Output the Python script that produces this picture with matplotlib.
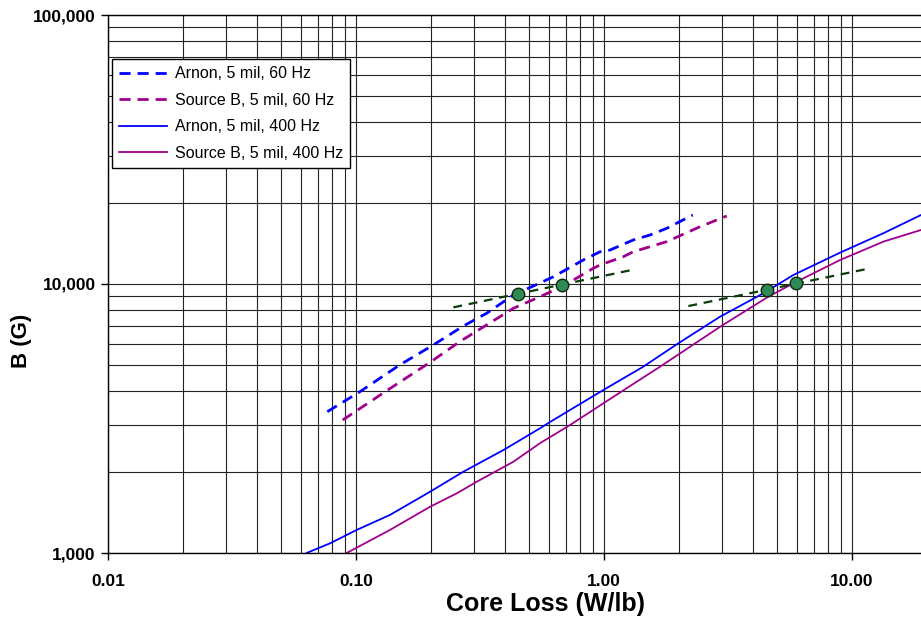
import matplotlib
matplotlib.use("Agg")
import matplotlib.pyplot as plt
from matplotlib.ticker import FixedLocator, FixedFormatter, LogLocator, NullFormatter

plt.rcParams['font.family'] = ['Liberation Sans', 'DejaVu Sans']

# Arnon, 5 mil, 60 Hz (dashed blue)
arnon60_x = [0.0766, 0.1037, 0.150, 0.205, 0.271, 0.336, 0.431, 0.519, 0.625, 0.825, 0.964, 1.057, 1.313, 1.532, 1.790, 2.279]
arnon60_y = [3352, 3978, 5000, 5935, 6980, 7780, 9100, 9830, 10640, 12280, 13180, 13370, 14580, 15210, 16110, 18050]

# Source B, 5 mil, 60 Hz (dashed magenta)
srcb60_x = [0.0884, 0.133, 0.199, 0.262, 0.336, 0.431, 0.552, 0.685, 0.905, 0.964, 1.196, 1.313, 1.532, 1.790, 2.438, 3.125]
srcb60_y = [3122, 4013, 5117, 6105, 7040, 8120, 8970, 9830, 11440, 11770, 12630, 13180, 13760, 14370, 16330, 17900]

# Arnon, 5 mil, 400 Hz (solid blue)
arnon400_x = [0.0632, 0.0785, 0.1006, 0.137, 0.199, 0.271, 0.393, 0.552, 0.606, 0.994, 1.440, 1.994, 2.935, 4.389, 5.80, 8.95, 13.37, 18.97]
arnon400_y = [1000, 1086, 1218, 1385, 1690, 2006, 2414, 2908, 3070, 4036, 4928, 6021, 7556, 9235, 10800, 13080, 15440, 18050]

# Source B, 5 mil, 400 Hz (solid magenta)
srcb400_x = [0.0917, 0.137, 0.199, 0.255, 0.307, 0.431, 0.552, 0.729, 0.994, 1.682, 2.983, 4.598, 5.80, 8.95, 13.37, 18.97]
srcb400_y = [1000, 1218, 1486, 1667, 1841, 2184, 2560, 2990, 3602, 4928, 6998, 8970, 10060, 12280, 14370, 15880]

# Marked points and reference lines
dots_x = [0.449, 0.675, 4.53, 5.95]
dots_y = [9180, 9940, 9500, 10060]
ref1_x = [0.247, 1.334]
ref1_y = [8190, 11340]
ref2_x = [2.188, 11.83]
ref2_y = [8280, 11440]

xticks = [0.01, 0.1, 1, 10]
xticklabels = ["0.01", "0.10", "1.00", "10.00"]
yticks = [1000, 10000, 100000]
yticklabels = ["1,000", "10,000", "100,000"]

fig = plt.figure(figsize=(9.21, 6.18), dpi=100)
ax = fig.add_axes([108/921, 65/618, 818.7/921, 538/618])
ax.set_xscale('log')
ax.set_yscale('log')
ax.set_xlim(0.01, 20)
ax.set_ylim(1000, 100000)

ax.grid(True, which='both', color='#222222', linewidth=0.8)
ax.set_axisbelow(True)

blue = '#0000ff'
mag = '#a0008c'
ax.plot(arnon60_x, arnon60_y, color=blue, lw=2.0, ls=(0, (4, 2.5)), label='Arnon, 5 mil, 60 Hz')
ax.plot(srcb60_x, srcb60_y, color=mag, lw=2.0, ls=(0, (4, 2.5)), label='Source B, 5 mil, 60 Hz')
ax.plot(arnon400_x, arnon400_y, color=blue, lw=1.3, label='Arnon, 5 mil, 400 Hz')
ax.plot(srcb400_x, srcb400_y, color=mag, lw=1.3, label='Source B, 5 mil, 400 Hz')

ax.plot(ref1_x, ref1_y, color='#0a3d0a', lw=1.6, ls=(0, (4, 3)))
ax.plot(ref2_x, ref2_y, color='#0a3d0a', lw=1.6, ls=(0, (4, 3)))
ax.plot(dots_x, dots_y, 'o', ms=9, mfc='#2e8b57', mec='#0a2a0a', mew=1.0, ls='none', zorder=5)

ax.xaxis.set_major_locator(FixedLocator(xticks))
ax.xaxis.set_major_formatter(FixedFormatter(xticklabels))
ax.xaxis.set_minor_locator(LogLocator(base=10, subs=range(2, 10), numticks=20))
ax.xaxis.set_minor_formatter(NullFormatter())
ax.yaxis.set_major_locator(FixedLocator(yticks))
ax.yaxis.set_major_formatter(FixedFormatter(yticklabels))
ax.yaxis.set_minor_locator(LogLocator(base=10, subs=range(2, 10), numticks=20))
ax.yaxis.set_minor_formatter(NullFormatter())

ax.tick_params(axis='both', which='major', labelsize=12.5, length=5, width=1, direction='out')
ax.tick_params(axis='x', which='major', pad=10)
ax.tick_params(axis='y', which='major', pad=4)
ax.tick_params(axis='both', which='minor', length=0)
for lab in ax.get_xticklabels() + ax.get_yticklabels():
    lab.set_fontweight('bold')

for sp in ax.spines.values():
    sp.set_color('black')
    sp.set_linewidth(1.0)

fig.text(545/921, 1 - 604/618, 'Core Loss (W/lb)', fontsize=18, fontweight='bold',
         ha='center', va='center')
fig.text(22/921, 1 - 341/618, 'B (G)', fontsize=16, fontweight='bold',
         ha='center', va='center', rotation=90)

leg = ax.legend(loc='upper left', bbox_to_anchor=((112-108)/818.7, (553-59)/538), borderaxespad=0,
                fontsize=11.5, frameon=True, fancybox=False, edgecolor='black', framealpha=1,
                handlelength=3.0, labelspacing=0.72, borderpad=0.45, handletextpad=0.5)
leg.get_frame().set_linewidth(1.0)

fig.savefig('out.png', dpi=100)
